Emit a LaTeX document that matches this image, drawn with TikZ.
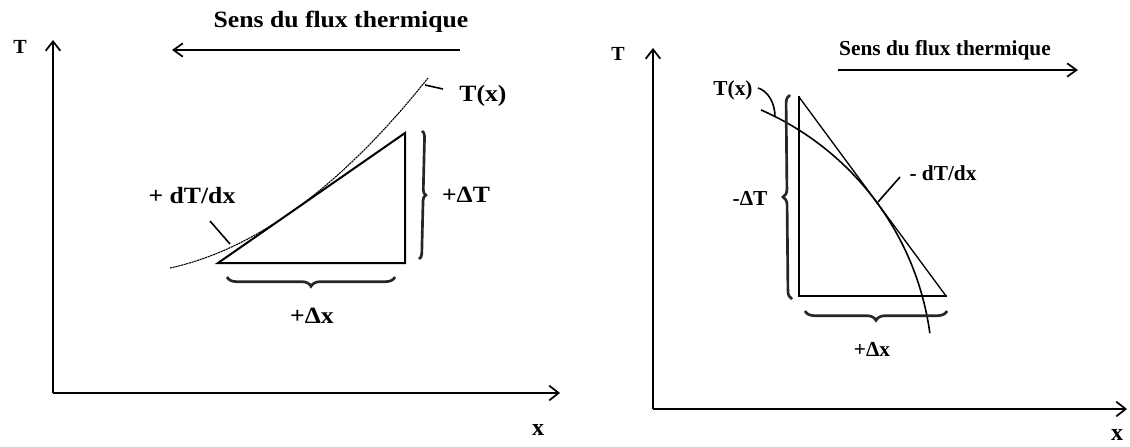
\documentclass[tikz,border=0pt]{standalone}
\usepackage{fontspec}
\setmainfont{Liberation Serif}
\usetikzlibrary{arrows.meta,decorations.pathreplacing}
\newcommand{\wstretch}[1]{\scalebox{1.1}[1]{#1}}
\begin{document}
\begin{tikzpicture}[x=0.75pt,y=-0.75pt,
  axis/.style={line width=1.5pt,-{Straight Barb[length=7pt,width=11pt,line width=1.3pt]}},
  flux/.style={line width=1.5pt,-{Straight Barb[length=7pt,width=10pt,line width=1.3pt]}},
  side/.style={line width=1.5pt,line join=miter,line cap=rect},
  thinside/.style={line width=1pt},
  lcurve/.style={line width=0.8pt,dash pattern=on 1.6pt off 0.5pt},
  rcurve/.style={line width=1.2pt},
  pointer/.style={line width=1.2pt},
  bracedraw/.style={decorate,decoration={brace,amplitude=#1},line width=2pt,black!85},
  lbl/.style={inner sep=0pt,anchor=base,font=\fontsize{17.5}{20}\selectfont\bfseries},
  rlbl/.style={inner sep=0pt,anchor=base,font=\fontsize{16}{18}\selectfont\bfseries},
  axlbl/.style={inner sep=0pt,anchor=base,font=\fontsize{15}{17}\selectfont\bfseries},
  xlbl/.style={inner sep=0pt,anchor=base,font=\fontsize{18}{20}\selectfont\bfseries},
]
\useasboundingbox (0,0) rectangle (1130,446);
\fill[white] (0,0) rectangle (1130,446);

% ---------------- left diagram ----------------
\coordinate (O1) at (53,393);
\coordinate (Y1) at (53,40);
\coordinate (X1) at (560,393);
\draw[axis] (O1) -- (Y1);
\draw[axis] (O1) -- (X1);
\node[axlbl] (T1) at (20,53) {T};
\node[xlbl] (x1) at (538,435) {x};

\node[lbl] (flux1) at (341,27) {\wstretch{Sens du flux thermique}};
\coordinate (f1s) at (460,50);
\coordinate (f1e) at (172,50);
\draw[flux] (f1s) -- (f1e);

% triangle
\coordinate (A1) at (218,263);
\coordinate (B1) at (405,133);
\coordinate (C1) at (405,263);
\draw[side] (A1) -- (B1) -- (C1) -- cycle;

% curve T(x)
\coordinate (c1s) at (170,268);
\coordinate (c1e) at (428,78);
\draw[lcurve] (c1s) .. controls (256,249.3) and (342,186) .. (c1e);
\node[lbl] (Tx1) at (483,101) {\wstretch{T(x)}};
\coordinate (t1a) at (425,85);
\coordinate (t1b) at (443,89);
\draw[pointer] (t1a) -- (t1b);

% dT/dx
\node[lbl] (d1) at (192,203) {\wstretch{+ dT/dx}};
\coordinate (p1a) at (210,221);
\coordinate (p1b) at (230,244);
\draw[pointer] (p1a) -- (p1b);

% braces
\coordinate (bv1t) at (422,131);
\coordinate (bv1b) at (419,259);
\draw[bracedraw=4pt] (bv1t) -- (bv1b);
\node[lbl] (dT1) at (466,202) {\wstretch{+ΔT}};
\coordinate (bh1r) at (395,277);
\coordinate (bh1l) at (227,277);
\draw[bracedraw=7pt] (bh1r) -- (bh1l);
\node[lbl] (dx1) at (312,323) {\wstretch{+Δx}};

% ---------------- right diagram ----------------
\coordinate (O2) at (653,409);
\coordinate (Y2) at (653,48);
\coordinate (X2) at (1127,409);
\draw[axis] (O2) -- (Y2);
\draw[axis] (O2) -- (X2);
\node[axlbl] (T2) at (618,60) {T};
\node[xlbl] (x2) at (1117,440) {x};

\node[rlbl] (flux2) at (945,55) {Sens du flux thermique};
\coordinate (f2s) at (838,70);
\coordinate (f2e) at (1078,70);
\draw[flux] (f2s) -- (f2e);

% triangle
\coordinate (A2) at (799,97);
\coordinate (B2) at (946,296);
\coordinate (C2) at (799,296);
\draw[side] (B2) -- (C2) -- (A2);
\draw[thinside] (A2) -- (B2);

% curve T(x): circular arc
\draw[rcurve] plot[domain=-66.4:-7.8,samples=60,smooth] ({646.5+286*cos(\x)},{372+286*sin(\x)});
\node[rlbl] (Tx2) at (733,95) {T(x)};
\coordinate (t2a) at (758,88);
\coordinate (t2b) at (775,117);
\draw[pointer] (t2a) .. controls (768,91) and (775,103) .. (t2b);

% dT/dx
\node[rlbl] (d2) at (943,180) {- dT/dx};
\coordinate (p2a) at (900,177);
\coordinate (p2b) at (878,202);
\draw[pointer] (p2a) -- (p2b);

% braces
\coordinate (bv2b) at (792,299);
\coordinate (bv2t) at (790,95);
\draw[bracedraw=6pt] (bv2b) -- (bv2t);
\node[rlbl] (dT2) at (750,205) {-ΔT};
\coordinate (bh2r) at (947,311);
\coordinate (bh2l) at (805,311);
\draw[bracedraw=7pt] (bh2r) -- (bh2l);
\node[rlbl] (dx2) at (872,356) {+Δx};
\end{tikzpicture}
\end{document}
